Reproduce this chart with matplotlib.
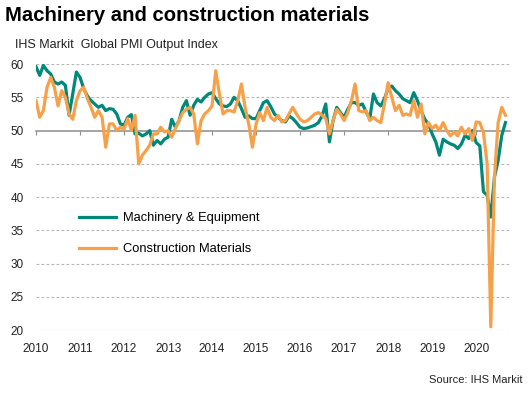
import matplotlib
matplotlib.use("Agg")
import matplotlib.pyplot as plt

plt.rcParams['font.family'] = ['Liberation Sans', 'DejaVu Sans']

# Monthly index values, Jan 2010 onwards
machinery = [59.6, 58.3, 59.8, 59.0, 58.5, 57.3, 57.0, 57.3, 56.8, 52.3, 55.5, 58.8,
             58.0, 56.3, 55.2, 54.5, 54.0, 53.5, 53.8, 53.0, 53.3, 53.2, 52.5, 51.0,
             50.8, 52.0, 52.4, 49.5, 49.6, 49.2, 49.5, 50.0, 47.8, 48.5, 48.0, 48.7,
             49.0, 51.7, 50.5, 51.5, 53.5, 54.5, 52.3, 53.8, 54.7, 54.3, 55.0, 55.5,
             55.7, 54.8, 54.0, 53.7, 53.6, 54.0, 55.0, 54.5, 53.3, 52.0, 52.2, 51.8,
             51.8, 53.0, 54.2, 54.5, 53.6, 52.5, 52.0, 51.5, 51.3, 52.2, 51.8, 51.2,
             50.5, 50.3, 50.4, 50.6, 50.8, 51.2, 52.2, 54.0, 48.3, 51.5, 53.5, 52.7,
             52.0, 53.2, 54.2, 54.2, 53.8, 54.0, 52.8, 51.8, 55.5, 54.2, 53.7, 54.8,
             56.3, 56.7, 56.0, 55.5, 54.8, 54.5, 54.2, 55.7, 54.5, 53.0, 51.7, 51.0,
             49.5, 48.3, 46.3, 48.7, 48.3, 48.0, 47.8, 47.3, 48.0, 49.3, 48.8, 50.0,
             48.2, 47.7, 40.8, 40.3, 37.0, 43.0, 45.5, 49.3, 51.2]

construction = [54.5, 52.0, 53.0, 56.5, 58.0, 56.5, 53.7, 56.0, 55.0, 52.5, 51.7, 54.5,
                56.0, 56.5, 54.8, 53.5, 52.0, 53.0, 52.0, 47.5, 51.0, 51.0, 50.0, 50.5,
                50.2, 51.8, 50.0, 52.3, 45.0, 46.3, 47.0, 47.8, 49.5, 49.5, 50.5, 49.8,
                50.0, 49.0, 50.3, 51.5, 52.7, 53.2, 53.5, 52.5, 48.0, 51.5, 52.5, 53.0,
                53.7, 59.0, 55.5, 52.5, 53.0, 53.0, 52.8, 54.5, 57.0, 53.5, 51.0, 47.5,
                51.0, 52.7, 51.5, 53.5, 52.0, 51.5, 52.3, 51.3, 51.5, 52.5, 53.5, 52.5,
                51.7, 51.3, 51.5, 52.0, 52.5, 52.7, 52.3, 51.8, 49.5, 51.5, 53.2, 52.5,
                51.5, 52.7, 54.5, 57.0, 53.0, 52.8, 53.0, 51.5, 52.0, 51.5, 51.2, 54.0,
                57.2, 55.0, 53.0, 53.8, 52.3, 52.5, 52.3, 54.5, 52.0, 54.0, 49.5, 51.2,
                50.3, 50.8, 50.0, 51.2, 50.0, 49.2, 49.8, 49.2, 50.5, 49.5, 50.3, 48.5,
                51.3, 51.2, 49.7, 45.0, 20.5, 43.0, 51.2, 53.5, 52.3]

years = [2010, 2011, 2012, 2013, 2014, 2015, 2016, 2017, 2018, 2019, 2020]
months = list(range(len(machinery)))

teal = '#00897b'
orange = '#f7a04a'

fig = plt.figure(figsize=(5.3, 3.93), dpi=100)
ax = fig.add_axes([0.068, 0.160, 0.894, 0.677])

# gridlines
for v in [20, 25, 30, 35, 40, 45, 55, 60]:
    ax.axhline(v, color='#b5b5b5', lw=0.8, ls=(0, (2.5, 2)), zorder=0)

ax.plot(months, machinery, color=teal, lw=2.3, label='Machinery & Equipment', zorder=3)
ax.plot(months, construction, color=orange, lw=2.3, label='Construction Materials', zorder=4)

ax.set_xlim(0, 129.2)
ax.set_ylim(20, 60)
ax.set_yticks([20, 25, 30, 35, 40, 45, 50, 55, 60])
ax.tick_params(axis='y', length=0, pad=9, labelsize=8.5, colors='#222222')

# x axis line sits at 50 with small ticks, labels at bottom
for s in ['top', 'right', 'left']:
    ax.spines[s].set_visible(False)
ax.spines['bottom'].set_position(('data', 50))
ax.spines['bottom'].set_color('#8c8c8c')
ax.spines['bottom'].set_linewidth(1.1)
ax.spines['bottom'].set_zorder(2)
ax.set_xticks([12 * i for i in range(len(years))])
ax.tick_params(axis='x', length=3, color='#8c8c8c', labelbottom=False)

sec = ax.secondary_xaxis('bottom')
sec.set_xticks([12 * i for i in range(len(years))])
sec.set_xticklabels([str(y) for y in years])
sec.tick_params(length=0, pad=9, labelsize=8.5, colors='#222222')
sec.spines['bottom'].set_visible(False)

leg = ax.legend(loc='upper left', bbox_to_anchor=(0.09, 0.443), frameon=False,
                fontsize=9.3, handlelength=2.9, handletextpad=0.55, labelspacing=1.45,
                borderpad=0, borderaxespad=0)

fig.text(0.009, 0.960, 'Machinery and construction materials', fontsize=14.6,
         fontweight='bold', va='center', ha='left')
fig.text(0.028, 0.885, 'IHS Markit  Global PMI Output Index', fontsize=9,
         va='center', ha='left', color='#222222')
fig.text(0.985, 0.033, 'Source: IHS Markit', fontsize=8, va='center', ha='right',
         color='#222222')

plt.savefig('out.png', dpi=100)
